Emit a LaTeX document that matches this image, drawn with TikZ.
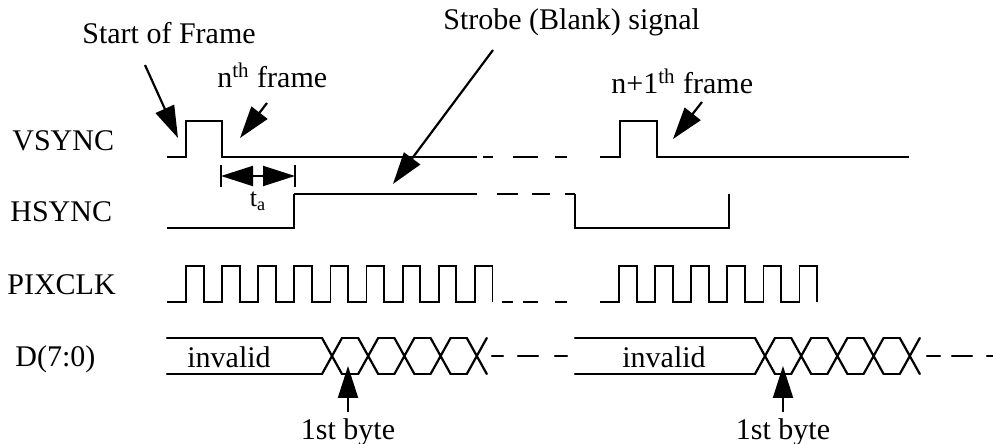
\documentclass[tikz,border=0pt]{standalone}
\usepackage{fontspec}
\setmainfont{Liberation Serif}
\usetikzlibrary{arrows.meta}

\begin{document}
\begin{tikzpicture}[
      x=0.5pt, y=-0.5pt,
      >={Triangle[length=16pt,width=10pt]},
      lbl/.style={inner sep=0pt, anchor=base west, font=\fontsize{15}{18}\selectfont},
      sig/.style={line width=1.2pt},
      fine/.style={line width=0.6pt},
      clk/.style={line width=0.9pt},
      bus/.style={line width=1.1pt, line cap=round},
      ptr/.style={->, line width=1.1pt}]
    \useasboundingbox (0,0) rectangle (993,444);

    \node[lbl] (vsync) at (12,151) {VSYNC};
    \node[lbl] (hsync) at (10,222) {HSYNC};
    \node[lbl] (pixclk) at (7,295) {PIXCLK};
    \node[lbl] (data) at (15,367) {D(7:0)};
    \node[lbl] (sof) at (82,44) {Start of Frame};
    \node[lbl] (nth) at (217,88) {n\textsuperscript{th} frame};
    \node[lbl] (strobe) at (443,30) {Strobe (Blank) signal};
    \node[lbl] (nnext) at (611,94) {n+1\textsuperscript{th} frame};
    \node[lbl] (inv1) at (187,368) {invalid};
    \node[lbl] (inv2) at (622,368) {invalid};
    \node[lbl, anchor=base] (byte1) at (348,440) {1st byte};
    \node[lbl, anchor=base] (byte2) at (783,440) {1st byte};
    \node[inner sep=0pt, font=\fontsize{13}{15}\selectfont] (ta) at (258,201) {t\textsubscript{a}};

    % VSYNC
    \draw[sig] (167,157) -| (186,121) -| (222,157) -- (477,157);
    \draw[sig] (483,157) -- (493,157) (513,157) -- (538,157) (555,157) -- (567,157);
    \draw[sig] (600,157) -| (620,121) -| (657,157) -- (909,157);

    % HSYNC
    \draw[sig] (167,228) -| (294,194);
    \draw[fine] (294,194) -- (477,194) (497,194) -- (518,194) (532,194) -- (550,194) (565,194) -- (575,194);
    \draw[sig] (575,194) |- (729,228) -- (729,194);

    % PIXCLK
    \draw[clk] (167,302)
      \foreach \k in {0,...,8} {
        -- ({186+36.1*\k},302) -- ({186+36.1*\k},266)
        -- ({203.6+36.1*\k},266) -- ({203.6+36.1*\k},302)};
    \draw[fine] (502,302) -- (513,302) (523,302) -- (538,302) (555,302) -- (567,302);
    \draw[clk] (600,302)
      \foreach \k in {0,...,5} {
        -- ({619+36.1*\k},302) -- ({619+36.1*\k},266)
        -- ({636.6+36.1*\k},266) -- ({636.6+36.1*\k},302)};

    % D(7:0)
    \draw[bus] (167,338) -- (322,338) (167,374) -- (322,374);
    \foreach \c in {332,368.2,404.4,440.6,476.8}
      \draw[bus] (\c-10,338) -- (\c+10,374) (\c-10,374) -- (\c+10,338);
    \foreach \c in {332,368.2,404.4,440.6}
      \draw[bus] (\c+10,338) -- (\c+26.2,338) (\c+10,374) -- (\c+26.2,374);
    \draw[bus] (492,356) -- (503,356) (518,356) -- (538,356) (555,356) -- (567,356);
    \draw[bus] (575,338) -- (755,338) (575,374) -- (755,374);
    \foreach \c in {765,801.2,837.4,873.6,909.8}
      \draw[bus] (\c-10,338) -- (\c+10,374) (\c-10,374) -- (\c+10,338);
    \foreach \c in {765,801.2,837.4,873.6}
      \draw[bus] (\c+10,338) -- (\c+26.2,338) (\c+10,374) -- (\c+26.2,374);
    \draw[bus] (927,356) -- (940,356) (952,356) -- (972,356) (987,356) -- (995,356);

    % pointers
    \coordinate (sofTail) at (145,65);
    \coordinate (sofTip) at (178,138);
    \coordinate (nthTail) at (267,103);
    \coordinate (nthTip) at (240,138);
    \coordinate (strobeTail) at (493,50);
    \coordinate (strobeTip) at (393,184);
    \coordinate (nnextTail) at (702,102);
    \coordinate (nnextTip) at (673,139);
    \coordinate (byte1Tail) at (348,412);
    \coordinate (byte1Tip) at (348,366);
    \coordinate (byte2Tail) at (783,412);
    \coordinate (byte2Tip) at (783,366);
    \draw[ptr] (sofTail) -- (sofTip);
    \draw[ptr] (nthTail) -- (nthTip);
    \draw[ptr] (strobeTail) -- (strobeTip);
    \draw[ptr] (nnextTail) -- (nnextTip);
    \draw[ptr] (byte1Tail) -- (byte1Tip);
    \draw[ptr] (byte2Tail) -- (byte2Tip);

    % t_a
    \coordinate (taL) at (221,176);
    \coordinate (taR) at (295,176);
    \draw[line width=1pt] (221,165) -- (221,187) (295,165) -- (295,187);
    \draw[<->, line width=1pt] (taL) -- (taR);
  \end{tikzpicture}
\end{document}
